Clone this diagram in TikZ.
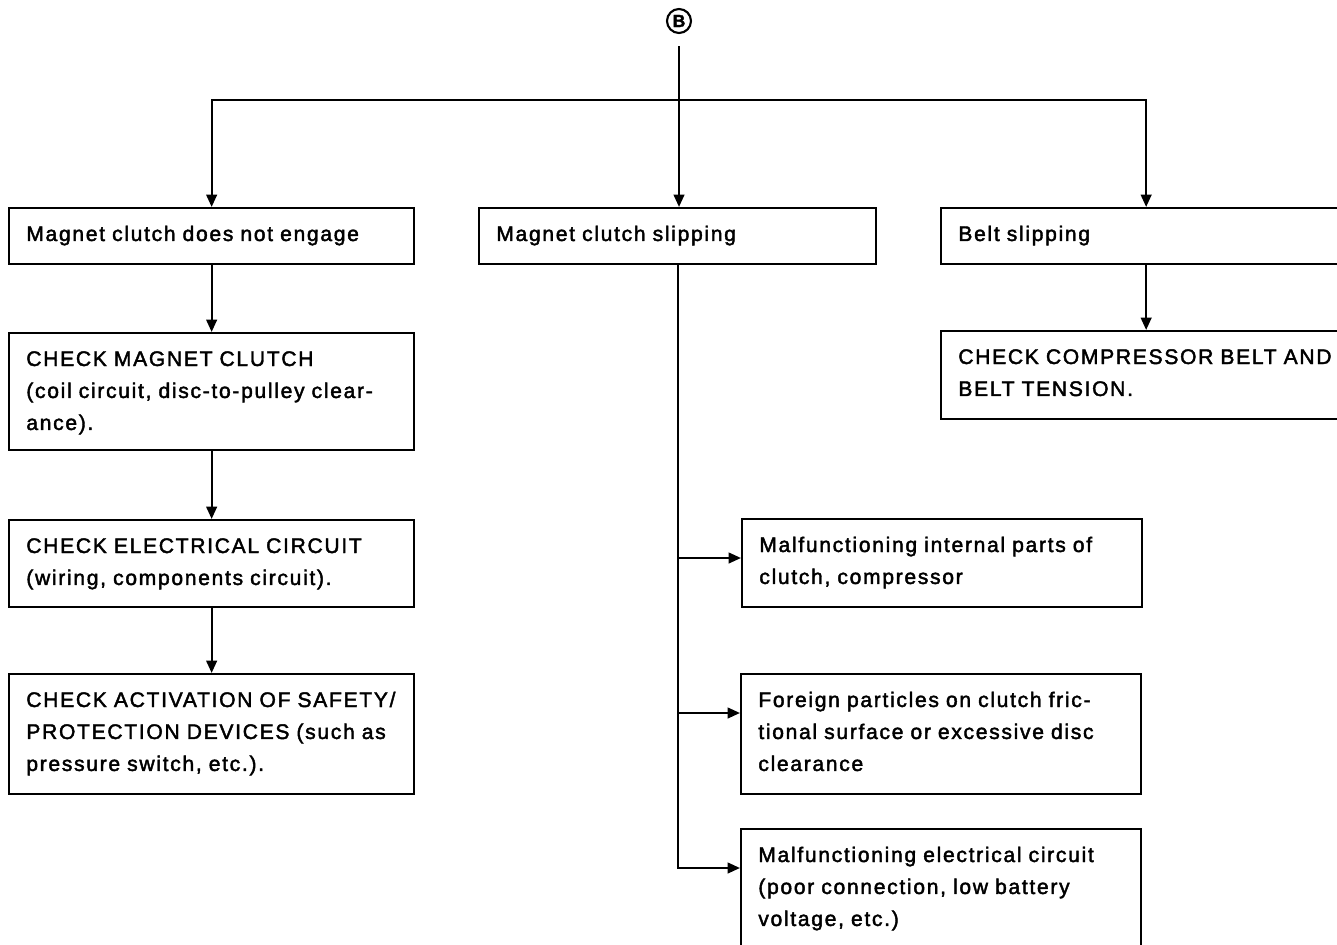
\documentclass[tikz,border=0pt]{standalone}
\usepackage{fontspec}
\setmainfont{Liberation Sans}[LetterSpace=8, FakeBold=2]
\usepackage{tikz}
\usetikzlibrary{positioning, arrows.meta, calc}

% box outline plus its left aligned text, first baseline 34 units below the top
\newcommand{\flowbox}[5]{%
    \node[box_style, minimum width=#3*0.02cm, minimum height=#4*0.02cm, anchor=north west] (#1) at (#2) {};
    \node[text_style, anchor=base west] (#1-text) at ($(#1.north west)+(18,34)$) {#5};
}

\begin{document}
\begin{tikzpicture}[
        x=0.02cm, y=-0.02cm,
        >={Triangle[length=7pt, width=6pt]},
        box_style/.style={draw, line width=1.3pt, inner sep=0pt},
        text_style/.style={inner sep=0pt, text width=7.8cm, align=left,
            font=\fontsize{12pt}{18.2pt}\selectfont},
        arrow_style/.style={->, line width=1.3pt}
    ]
    \clip (0,0) rectangle (1337,945);

    % =========================================================================
    % 1. ENTRY MARK
    % =========================================================================
    \node[circle, draw, line width=1.2pt, minimum size=0.48cm, inner sep=0pt,
        font=\fontsize{10pt}{10pt}\selectfont\bfseries] (markB) at (679,21) {B};

    % =========================================================================
    % 2. SYMPTOM BOXES (Top Row)
    % =========================================================================
    \flowbox{clutchA}{8,207}{405}{56}{Magnet clutch does not engage}
    \flowbox{slipA}{478,207}{397}{56}{Magnet clutch slipping}
    \flowbox{beltA}{940,207}{410}{56}{Belt slipping}

    % =========================================================================
    % 3. CHECK BOXES
    % =========================================================================
    \flowbox{checkMag}{8,332}{405}{117}{CHECK MAGNET CLUTCH\\(coil circuit, disc-to-pulley clear-\\ance).}
    \flowbox{checkElec}{8,519}{405}{87}{CHECK ELECTRICAL CIRCUIT\\(wiring, components circuit).}
    \flowbox{checkSafe}{8,673}{405}{120}{CHECK ACTIVATION OF SAFETY/\\PROTECTION DEVICES (such as\\pressure switch, etc.).}
    \flowbox{checkBelt}{940,330}{410}{88}{CHECK COMPRESSOR BELT AND\\BELT TENSION.}

    % =========================================================================
    % 4. CAUSE BOXES (Slipping branch)
    % =========================================================================
    \flowbox{malParts}{741,518}{400}{88}{Malfunctioning internal parts of\\clutch, compressor}
    \flowbox{foreign}{740,673}{400}{120}{Foreign particles on clutch fric-\\tional surface or excessive disc\\clearance}
    \flowbox{malElec}{740,828}{400}{130}{Malfunctioning electrical circuit\\(poor connection, low battery\\voltage, etc.)}

    % =========================================================================
    % 5. CONNECTORS
    % =========================================================================
    \coordinate (bar) at (680,100);
    \draw[arrow_style, shorten <=0.24cm] (markB.south) -- (markB.south |- slipA.north);
    \draw[arrow_style] (bar) -| (clutchA.north);
    \draw[arrow_style] (bar) -| (beltA.north);

    \draw[arrow_style] (clutchA.south) -- (checkMag.north);
    \draw[arrow_style] (checkMag.south) -- (checkElec.north);
    \draw[arrow_style] (checkElec.south) -- (checkSafe.north);
    \draw[arrow_style] (beltA.south) -- (checkBelt.north);

    % branch taps sit 40 units below each cause box top
    \foreach \cause in {malParts, foreign, malElec}
        \draw[arrow_style] (slipA.south) |- ($(\cause.north west)+(0,40)$);

\end{tikzpicture}
\end{document}
